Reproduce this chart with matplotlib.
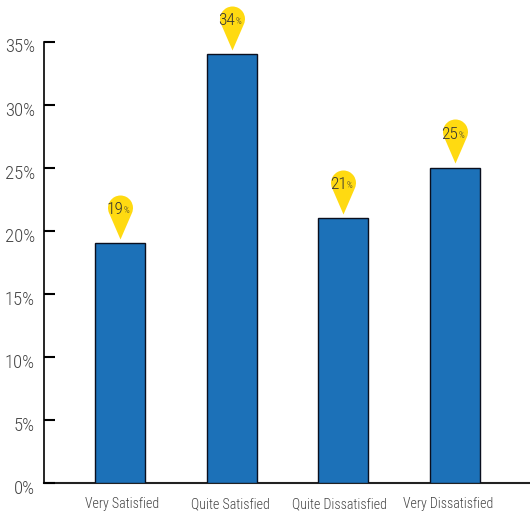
import numpy as np
import matplotlib
matplotlib.use("Agg")
import matplotlib.pyplot as plt
from matplotlib import font_manager as fm
from matplotlib.font_manager import FontProperties
from matplotlib.path import Path
from matplotlib.transforms import Affine2D, ScaledTranslation

categories = ["Very Satisfied", "Quite Satisfied", "Quite Dissatisfied", "Very Dissatisfied"]
values = [19, 34, 21, 25]
y_ticks = [0, 5, 10, 15, 20, 25, 30, 35]
y_labels = ["0%", "5%", "10%", "15%", "20%", "25%", "30%", "35%"]

def light_condensed():
    paths = sorted({f.fname for f in fm.fontManager.ttflist})
    for key in ["OpenSansCondensed-Light.", "OpenSansCondensed-Light", "OpenSans_Condensed-Light", "RobotoCondensed-Light.", "FiraSansCondensed-Light."]:
        for p in paths:
            if key in p and "Italic" not in p:
                return p
    return None

fpath = light_condensed()
def fp(size):
    return FontProperties(fname=fpath, size=size) if fpath else FontProperties(family="DejaVu Sans", size=size)

W, H = 530, 517
fig = plt.figure(figsize=(W/100, H/100), dpi=100)
ax = fig.add_axes([44/W, (H-483)/H, (W-44)/W, (483-41.5)/H])
x = np.arange(len(categories))
ax.bar(x, values, width=0.445, color="#1C71B8", edgecolor="#0A0F1E", linewidth=1.0, zorder=2)
ax.set_xlim(-0.684, 3.675)
ax.set_ylim(0, 35)

for s in ["top", "right"]:
    ax.spines[s].set_visible(False)
ax.spines["left"].set_linewidth(1.2)
ax.spines["bottom"].set_linewidth(1.5)
ax.spines["bottom"].set_color("#222222")
ax.spines["bottom"].set_zorder(1)
ax.set_yticks(y_ticks, y_labels)
ax.set_xticks(x, categories)
ax.tick_params(axis="y", direction="in", length=8, width=1.5, pad=6.5, labelcolor="#444444", color="black")
ax.tick_params(axis="x", length=0, pad=10, labelcolor="#444444")
for lab in ax.get_yticklabels():
    lab.set_fontproperties(fp(13.5))
    lab.set_transform(lab.get_transform() + ScaledTranslation(0, -4/100, fig.dpi_scale_trans))
for lab, dx in zip(ax.get_xticklabels(), [2, -1, -4, -7]):
    lab.set_fontproperties(fp(10))
    lab.set_transform(lab.get_transform() + ScaledTranslation(dx/100, 0, fig.dpi_scale_trans))

# teardrop pin marker with tip at origin
r, cy = 0.284, 0.716
a = np.degrees(np.arcsin(r/cy))
arc = Path.arc(-a, 180+a)
arc = arc.transformed(Affine2D().scale(r).translate(0, cy))
verts = np.vstack([[[0, 0]], arc.vertices, [[0, 0]]])
codes = [Path.MOVETO] + [Path.LINETO if c == Path.MOVETO else c for c in arc.codes] + [Path.LINETO]
pin = Path(verts, codes)
ms = 44*0.72*2

for xi, v in zip(x, values):
    ax.plot([xi], [v], linestyle="none", marker=pin, markersize=ms, markerfacecolor="#FFDA11",
            markeredgewidth=0, clip_on=False, zorder=3,
            transform=ax.transData + ScaledTranslation(0, 4.5/100, fig.dpi_scale_trans))
    ax.annotate(str(v), (xi, v), xytext=(3.5*0.72, 33.5*0.72), textcoords="offset points", ha="right", va="center",
                fontproperties=fp(12.5), color="#333333", zorder=4, annotation_clip=False)
    ax.annotate("%", (xi, v), xytext=(3.5*0.72, 32.5*0.72), textcoords="offset points", ha="left", va="center",
                fontproperties=fp(6.5), color="#333333", zorder=4, annotation_clip=False)

fig.savefig("out.png", dpi=100)
